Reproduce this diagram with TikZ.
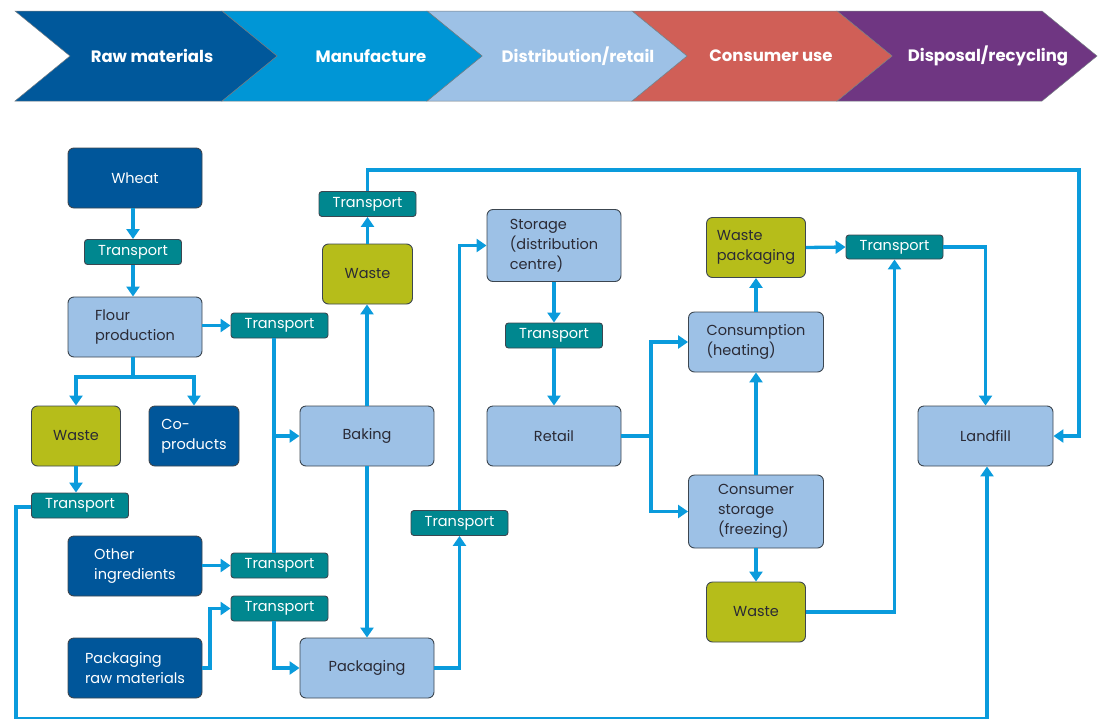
\documentclass[tikz,border=0pt]{standalone}
\usepackage{fontspec}
\setmainfont{Poppins}
\usetikzlibrary{arrows.meta}
\definecolor{hdRaw}{HTML}{00589B}
\definecolor{hdMan}{HTML}{0096D6}
\definecolor{hdDist}{HTML}{9DC1E6}
\definecolor{hdCons}{HTML}{D05F57}
\definecolor{hdDisp}{HTML}{6F3682}
\definecolor{cDark}{HTML}{00569A}
\definecolor{cLight}{HTML}{9DC1E6}
\definecolor{cOlive}{HTML}{B6BD1A}
\definecolor{cTeal}{HTML}{00878F}
\definecolor{cLine}{HTML}{0A9BDC}
\definecolor{cEdge}{HTML}{3C4650}
\definecolor{cText}{HTML}{2A2A35}
\tikzset{
  box/.style={rectangle, rounded corners=6pt, draw=cEdge, line width=0.9pt, inner sep=2pt,
    font=\fontsize{14.5}{20}\selectfont, align=left},
  darkbox/.style={box, fill=cDark, text=white, minimum width=134pt, minimum height=60pt},
  lightbox/.style={box, fill=cLight, text=cText, minimum width=134pt, minimum height=60pt},
  olivebox/.style={box, fill=cOlive, text=cText, minimum width=90pt, minimum height=60pt},
  teal/.style={box, rounded corners=3pt, fill=cTeal, text=white, minimum width=97pt, minimum height=25pt,
    font=\fontsize{14.5}{16}\selectfont},
  conn/.style={draw=cLine, line width=3.3pt},
  arr/.style={conn, -{Triangle[width=13pt,length=10pt]}},
  hdtext/.style={text=white, font=\fontsize{16.5}{18}\selectfont\bfseries},
  chev/.style={draw=cEdge!70, line width=0.5pt}
}
\begin{document}
\begin{tikzpicture}[x=1pt,y=-1pt]
\useasboundingbox (0,0) rectangle (1103,718);
% header chevrons
\fill[hdDisp, chev] (837,11) -- (1042,11) -- (1097,56) -- (1042,101) -- (837,101) -- (892,56) -- cycle;
\fill[hdCons, chev] (632,11) -- (837,11) -- (892,56) -- (837,101) -- (632,101) -- (687,56) -- cycle;
\fill[hdDist, chev] (427,11) -- (632,11) -- (687,56) -- (632,101) -- (427,101) -- (482,56) -- cycle;
\fill[hdMan, chev] (222,11) -- (427,11) -- (482,56) -- (427,101) -- (222,101) -- (277,56) -- cycle;
\fill[hdRaw, chev] (15,11) -- (222,11) -- (277,56) -- (222,101) -- (15,101) -- (70,56) -- cycle;
\node[hdtext] (hraw) at (152,56) {Raw materials};
\node[hdtext] (hman) at (371,56) {Manufacture};
\node[hdtext] (hdist) at (578,56) {Distribution/retail};
\node[hdtext] (hcons) at (771,56) {Consumer use};
\node[hdtext] (hdisp) at (988,56) {Disposal/recycling};

% nodes
\node[darkbox] (wheat) at (135,178) {Wheat};
\node[teal] (t1) at (133,252) {Transport};
\node[lightbox] (flour) at (135,327) {Flour\\production};
\node[teal] (t2) at (279.5,325.5) {Transport};
\node[olivebox, minimum width=89pt] (wasteL) at (76,436) {Waste};
\node[darkbox, minimum width=90pt] (coprod) at (194,436) {Co-\\products};
\node[teal] (t3) at (80,505.5) {Transport};
\node[darkbox] (other) at (135,566) {Other\\ingredients};
\node[teal] (t4) at (279.5,565.5) {Transport};
\node[teal] (t5) at (279.5,608.5) {Transport};
\node[darkbox] (pkgraw) at (135,668) {Packaging\\raw materials};
\node[lightbox] (baking) at (367,436) {Baking};
\node[lightbox] (pack) at (367,668) {Packaging};
\node[olivebox] (wasteM) at (367.5,274) {Waste};
\node[teal] (t6) at (367.5,204) {Transport};
\node[teal] (t7) at (459.5,523) {Transport};
\node[lightbox, minimum height=72pt] (storage) at (554,245.5) {Storage\\(distribution\\centre)};
\node[teal] (t8) at (554,335.5) {Transport};
\node[lightbox] (retail) at (554,436) {Retail};
\node[olivebox, minimum width=99pt] (wpack) at (756,247.5) {Waste\\packaging};
\node[teal, minimum height=24pt] (t9) at (894.5,247) {Transport};
\node[lightbox, minimum width=135pt] (consump) at (756,342) {Consumption\\(heating)};
\node[lightbox, minimum width=135pt, minimum height=73pt] (cstore) at (756,511.5) {Consumer\\storage\\(freezing)};
\node[olivebox, minimum width=99pt] (wasteR) at (756,612) {Waste};
\node[lightbox, minimum width=135pt] (landfill) at (985.5,436) {Landfill};

% helper coordinates
\coordinate (fsplit) at (133,377);
\coordinate (blL) at (16,507);
\coordinate (bbL) at (16,719);
\coordinate (bbR) at (987,719);
\coordinate (vx) at (274,436);
\coordinate (prj) at (210,668);
\coordinate (topR) at (1079,170);
\coordinate (rj) at (651,436);

% connectors
\draw[arr] (wheat.south -| t1) -- (t1.north);
\draw[arr] (t1.south) -- (t1.south |- flour.north);
\draw[arr] (flour.east |- t2) -- (t2.west);
\draw[conn] (flour.south -| fsplit) -- (fsplit);
\draw[arr] (fsplit) -| (wasteL.north);
\draw[arr] (fsplit) -| (coprod.north);
\draw[arr] (wasteL.south) -- (wasteL.south |- t3.north);
\draw[arr] (t3.west |- blL) -- (blL) -- (bbL) -- (bbR) -- (bbR |- landfill.south);
\draw[conn] (t2.south -| vx) -- (t4.north -| vx);
\draw[arr] (vx) -- (baking.west);
\draw[arr] (other.east |- t4) -- (t4.west);
\draw[arr] (pkgraw.east) -- (prj) |- (t5.west);
\draw[arr] (t5.south -| vx) |- (pack.west);
\draw[arr] (baking.south) -- (pack.north);
\draw[arr] (baking.north) -- (wasteM.south -| baking.north);
\draw[arr] (wasteM.north) -- (t6.south);
\draw[arr] (t6.north) |- (topR) |- (landfill.east);
\draw[arr] (pack.east) -| (t7.south);
\draw[arr] (t7.north) |- (storage.west);
\draw[arr] (storage.south) -- (t8.north);
\draw[arr] (t8.south) -- (retail.north);
\draw[conn] (retail.east) -- (rj);
\draw[arr] (rj) |- (consump.west);
\draw[arr] (rj) |- (cstore.west);
\draw[arr] (cstore.north) -- (consump.south);
\draw[arr] (consump.north) -- (wpack.south);
\draw[arr] (cstore.south) -- (wasteR.north);
\draw[arr] (wpack.east) -- (t9.west);
\draw[arr] (t9.east) -| (landfill.north);
\draw[arr] (wasteR.east) -| (t9.south);
\end{tikzpicture}
\end{document}
